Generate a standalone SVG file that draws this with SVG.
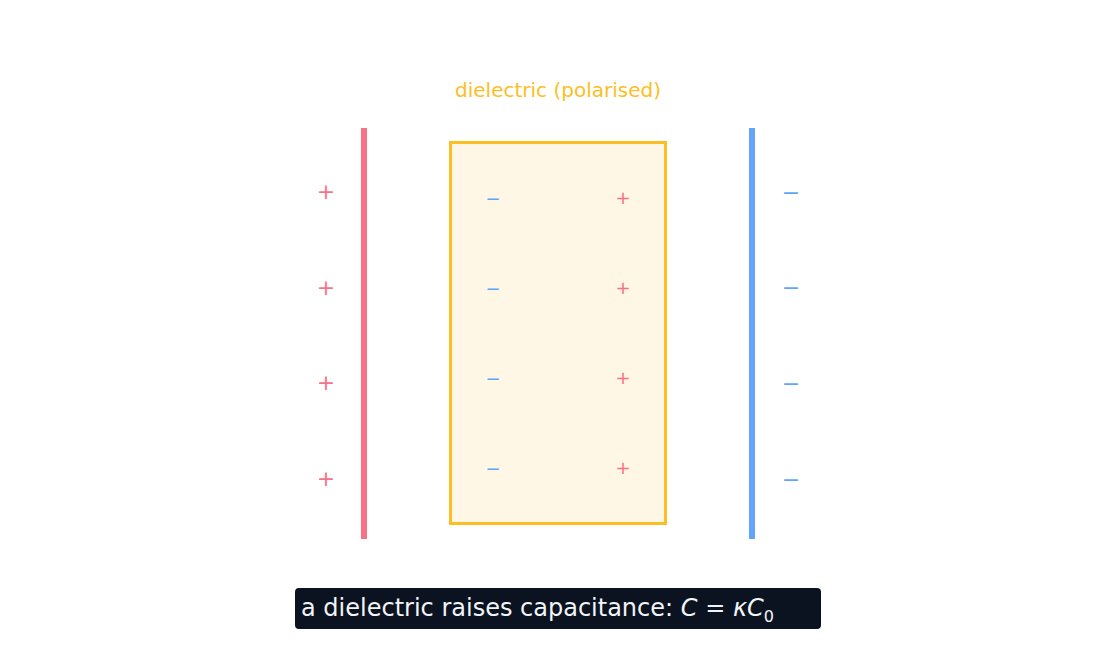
<svg xmlns="http://www.w3.org/2000/svg" width="1116" height="666" viewBox="0 0 1116 666">
<style>
.p{fill:#f87287;font-family:"DejaVu Sans",sans-serif;text-anchor:middle}
.n{fill:#60a5fa;font-family:"DejaVu Sans",sans-serif;text-anchor:middle}
.big{font-size:22px}.sm{font-size:18px}
</style>
<rect width="1116" height="666" fill="#fff"/>
<g id="plate-pos"><rect x="361" y="128" width="6" height="411" fill="#f87287"/>
<text class="p big" x="326" y="199">+</text><text class="p big" x="326" y="295">+</text><text class="p big" x="326" y="390">+</text><text class="p big" x="326" y="486">+</text></g>
<g id="plate-neg"><rect x="749" y="128" width="6" height="411" fill="#60a5fa"/>
<text class="n big" x="791" y="200">−</text><text class="n big" x="791" y="295">−</text><text class="n big" x="791" y="391">−</text><text class="n big" x="791" y="487">−</text></g>
<g id="dielectric"><rect x="450.5" y="142.5" width="215" height="381" fill="#fef7e6" stroke="#fbbf24" stroke-width="3"/>
<text x="558" y="97" font-family="DejaVu Sans,sans-serif" font-size="20" fill="#fbbf24" text-anchor="middle">dielectric (polarised)</text>
<text class="n sm" x="493" y="205">−</text><text class="n sm" x="493" y="295">−</text><text class="n sm" x="493" y="385">−</text><text class="n sm" x="493" y="475">−</text>
<text class="p sm" x="623" y="204">+</text><text class="p sm" x="623" y="294">+</text><text class="p sm" x="623" y="384">+</text><text class="p sm" x="623" y="474">+</text></g>
<g id="caption"><rect x="295" y="588" width="526" height="41" rx="4" fill="#0b1220"/>
<text x="301" y="616" font-family="DejaVu Sans,sans-serif" font-size="24" fill="#f1f5f9">a dielectric raises capacitance:  <tspan font-style="italic">C</tspan> = <tspan font-style="italic">κC</tspan><tspan font-size="16" dy="6">0</tspan></text></g>
<g id="connectors"/>
</svg>
